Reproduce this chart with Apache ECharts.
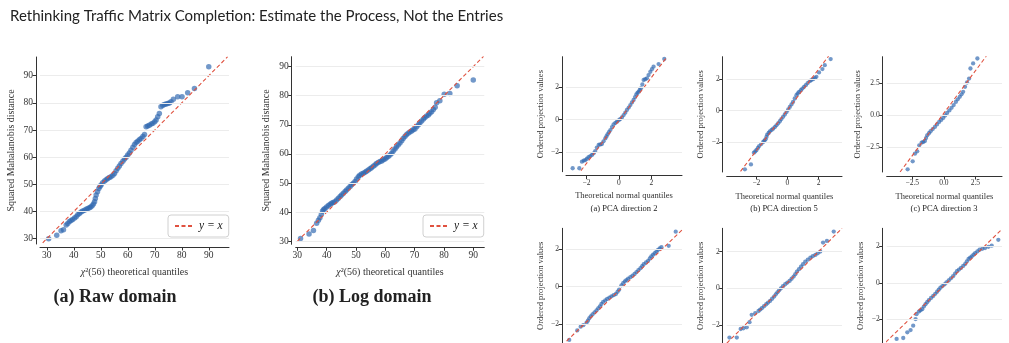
<!DOCTYPE html>
<html>
<head>
<meta charset="utf-8">
<script src="https://cdn.jsdelivr.net/npm/echarts@6/dist/echarts.min.js"></script>
<style>
html,body{margin:0;padding:0;background:#fff;}
#main{width:1009px;height:343px;}
</style>
</head>
<body>
<div id="main"></div>
<script>
// (a) raw domain: chi2(56) quantiles vs squared Mahalanobis distance
var rawQ = [30.7,33.7,35.3,36.2,37.2,37.8,38.4,39.0,39.6,40.3,40.9,41.5,42.1,42.7,43.3,44.0,44.6,45.2,45.8,46.3,46.8,47.3,47.7,48.0,48.3,48.8,49.3,49.7,50.1,50.7,51.4,52.0,52.6,53.2,53.8,54.5,55.1,55.7,56.3,56.9,57.5,58.2,58.8,59.4,60.0,60.6,61.2,61.9,62.5,63.1,63.7,64.3,64.9,65.6,66.2,66.8,67.4,68.0,68.7,69.3,70.0,70.5,71.1,71.7,72.3,73.0,73.6,74.2,74.8,75.4,76.0,76.9,78.5,80.1,82.2,84.7,90.0];
var rawD = [30.0,31.3,32.9,33.3,35.0,35.6,36.3,36.7,37.1,37.6,38.1,38.8,39.3,39.8,40.2,40.5,40.8,41.1,41.4,41.7,42.1,42.8,43.6,44.8,46.1,47.3,48.5,49.2,49.8,50.6,51.2,51.7,52.2,52.5,52.8,53.4,54.0,55.0,55.9,56.8,57.7,58.5,59.3,60.0,60.8,61.6,62.6,63.7,64.7,65.4,65.9,66.4,66.9,67.6,68.4,71.2,71.5,71.8,72.2,72.5,73.1,73.7,74.9,76.1,78.6,79.1,79.4,79.6,79.8,80.0,80.4,81.3,82.3,82.3,83.7,85.3,93.3];
var rawLine = [[28.5, 28.5], [97, 97]];

// (b) log domain
var logQ = [31.1,34.0,35.5,36.6,37.2,37.7,38.2,38.6,39.0,39.4,40.0,40.6,41.2,41.7,42.2,42.8,43.4,44.0,44.6,45.1,45.7,46.3,46.8,47.4,48.0,48.5,49.1,49.7,50.2,50.8,51.3,51.9,52.5,53.1,53.6,54.2,54.8,55.3,55.9,56.5,57.0,57.6,58.2,58.8,59.3,59.9,60.4,61.0,61.6,62.2,62.7,63.3,63.8,64.4,65.0,65.6,66.1,66.7,67.2,67.8,68.4,69.0,69.5,70.1,70.7,71.3,71.8,72.4,73.0,73.5,74.1,74.7,75.2,75.8,76.4,77.0,77.5,78.6,80.1,82.0,84.5,90.0];
var logD = [31.0,32.5,33.7,36.2,37.2,38.1,39.3,40.4,40.9,41.3,41.8,42.3,42.7,43.1,43.3,43.6,44.2,44.8,45.4,45.9,46.5,47.1,47.6,48.2,48.8,49.4,49.9,50.5,51.4,52.2,52.7,53.1,53.4,53.7,54.1,54.5,54.9,55.3,55.8,56.2,56.7,57.1,57.4,57.6,58.0,58.3,58.7,59.1,59.6,60.2,61.0,61.7,62.4,63.1,63.8,64.5,65.3,66.0,66.6,67.1,67.5,67.9,68.3,68.6,69.3,70.0,70.7,71.3,72.0,72.5,73.0,73.4,74.0,74.5,75.3,76.0,77.6,78.3,80.5,80.8,83.4,85.4];
var logLine = [[30, 30], [93.5, 93.5]];

var bigTicks = [30, 40, 50, 60, 70, 80, 90];

// PCA direction 2
var dir2Q = [-2.85,-2.44,-2.28,-2.17,-2.07,-1.97,-1.87,-1.76,-1.66,-1.56,-1.46,-1.36,-1.25,-1.15,-1.05,-0.95,-0.84,-0.77,-0.70,-0.62,-0.53,-0.43,-0.33,-0.22,-0.12,-0.02,0.08,0.18,0.29,0.39,0.49,0.60,0.70,0.80,0.90,0.99,1.07,1.14,1.21,1.28,1.35,1.44,1.52,1.62,1.72,1.82,1.93,2.03,2.13,2.44,2.79];
var dir2V = [-2.96,-2.96,-2.56,-2.50,-2.46,-2.38,-2.29,-2.22,-2.15,-2.05,-1.91,-1.70,-1.54,-1.51,-1.48,-1.32,-1.14,-1.02,-0.89,-0.76,-0.63,-0.45,-0.28,-0.19,-0.12,-0.04,0.04,0.14,0.28,0.43,0.59,0.74,0.89,1.05,1.20,1.38,1.54,1.63,1.71,1.81,1.91,2.15,2.42,2.47,2.52,2.72,2.92,3.08,3.23,3.39,3.70];
var dir2Line = [[-2.34, -3.11], [2.89, 3.74]];

// PCA direction 5
var dir5Q = [-2.74,-2.35,-2.16,-2.07,-1.99,-1.90,-1.82,-1.69,-1.56,-1.48,-1.41,-1.35,-1.30,-1.21,-1.13,-1.02,-0.92,-0.81,-0.71,-0.60,-0.49,-0.39,-0.28,-0.17,-0.06,0.05,0.15,0.26,0.36,0.47,0.58,0.66,0.75,0.86,0.96,1.07,1.18,1.30,1.43,1.54,1.65,1.76,1.86,2.03,2.25,2.40,2.78];
var dir5V = [-3.74,-3.43,-2.68,-2.60,-2.51,-2.38,-2.26,-2.13,-2.00,-1.92,-1.83,-1.68,-1.53,-1.42,-1.32,-1.23,-1.15,-1.05,-0.94,-0.81,-0.68,-0.54,-0.40,-0.25,-0.09,0.07,0.23,0.39,0.55,0.77,0.98,1.09,1.19,1.30,1.40,1.51,1.62,1.75,1.87,1.94,2.00,2.07,2.15,2.43,2.64,2.89,3.28];
var dir5Line = [[-3.02, -3.87], [2.65, 3.47]];

// PCA direction 3
var dir3Q = [-2.87,-2.47,-2.29,-2.11,-1.95,-1.76,-1.63,-1.50,-1.41,-1.32,-1.18,-1.05,-0.88,-0.71,-0.54,-0.37,-0.21,-0.05,0.10,0.26,0.44,0.61,0.78,0.95,1.10,1.26,1.40,1.53,1.68,1.84,2.00,2.11,2.32,2.66];
var dir3V = [-4.26,-3.63,-3.03,-2.84,-2.37,-2.16,-2.10,-2.03,-1.80,-1.58,-1.42,-1.26,-1.09,-0.92,-0.72,-0.53,-0.37,-0.21,-0.02,0.18,0.38,0.58,0.80,1.05,1.25,1.45,1.65,1.84,2.24,2.58,2.89,3.68,4.08,4.47];
var dir3Line = [[-3.47, -4.47], [3.37, 4.66]];

// second row (cut off at the bottom)
var dirDQ = [-2.83,-2.41,-2.23,-2.09,-1.92,-1.85,-1.78,-1.70,-1.61,-1.50,-1.40,-1.31,-1.22,-1.14,-1.05,-0.94,-0.84,-0.72,-0.61,-0.50,-0.38,-0.29,-0.21,-0.09,0.00,0.09,0.17,0.26,0.38,0.49,0.60,0.70,0.80,0.91,1.00,1.08,1.20,1.31,1.40,1.48,1.57,1.66,1.75,1.83,1.92,2.01,2.39,2.76];
var dirDV = [-2.82,-2.32,-2.12,-2.04,-1.91,-1.80,-1.68,-1.57,-1.47,-1.36,-1.26,-1.15,-1.04,-0.92,-0.81,-0.73,-0.65,-0.58,-0.51,-0.45,-0.39,-0.27,-0.16,0.07,0.18,0.28,0.35,0.42,0.50,0.58,0.67,0.77,0.87,0.98,1.09,1.19,1.28,1.37,1.49,1.60,1.69,1.77,1.86,1.95,2.02,2.09,2.16,2.91];
var dirDLine = [[-2.97, -2.88], [3.09, 3.0]];

var dirEQ = [-2.85,-2.45,-2.24,-2.09,-1.91,-1.76,-1.64,-1.45,-1.27,-1.18,-1.09,-0.97,-0.85,-0.75,-0.64,-0.53,-0.42,-0.33,-0.24,-0.15,-0.05,0.06,0.18,0.30,0.42,0.53,0.64,0.73,0.82,0.93,1.04,1.15,1.27,1.41,1.55,1.68,1.82,1.95,2.09,2.24,2.45,2.82];
var dirEV = [-2.69,-2.69,-2.22,-2.18,-2.13,-1.85,-1.45,-1.36,-1.24,-1.16,-1.09,-0.98,-0.87,-0.78,-0.69,-0.57,-0.45,-0.33,-0.22,-0.11,0.00,0.11,0.22,0.31,0.40,0.52,0.64,0.77,0.91,1.04,1.18,1.31,1.45,1.56,1.67,1.75,1.82,1.91,2.00,2.49,2.58,3.09];
var dirELine = [[-3.0, -3.0], [3.27, 3.27]];

var dirFQ = [-2.76,-2.40,-2.18,-2.00,-1.86,-1.73,-1.68,-1.55,-1.46,-1.37,-1.28,-1.19,-1.10,-1.01,-0.89,-0.77,-0.66,-0.56,-0.47,-0.38,-0.27,-0.16,-0.05,0.07,0.19,0.31,0.42,0.52,0.63,0.74,0.86,0.97,1.06,1.15,1.24,1.33,1.42,1.51,1.63,1.75,1.90,2.05,2.23,2.41,2.77];
var dirFV = [-3.06,-3.01,-2.70,-2.58,-2.34,-1.98,-1.71,-1.57,-1.50,-1.44,-1.30,-1.17,-1.06,-0.95,-0.83,-0.72,-0.60,-0.49,-0.38,-0.27,-0.18,-0.09,0.02,0.13,0.24,0.36,0.50,0.63,0.72,0.81,0.92,1.03,1.17,1.30,1.37,1.44,1.53,1.62,1.71,1.80,1.85,1.89,1.96,2.02,2.34];
var dirFLine = [[-3.35, -3.24], [2.99, 2.94]];

var ticks2 = [-2, 0, 2];
var ticks25 = [-2.5, 0, 2.5];

function zip(a, b) {
    var out = [];
    for (var i = 0; i < a.length; i++) out.push([a[i], b[i]]);
    return out;
}

function fmt(dec) {
    return function (v) {
        var s = Math.abs(v).toFixed(dec);
        return v < 0 ? '\u2212' + s : s;
    };
}

var serif = '"Liberation Serif", "DejaVu Serif", serif';
var dotColor = 'rgba(48,104,176,0.85)';
var redColor = '#e0513f';

var panels = [
    {box: [40, 57, 189, 187], x: [27.5, 97.5], y: [28.05, 96.9], pts: zip(rawQ, rawD), line: rawLine,
     xt: bigTicks, yt: bigTicks, dec: 0, big: true,
     xname: '{i|\u03c7}\u00b2(56) theoretical quantiles', yname: 'Squared Mahalanobis distance'},
    {box: [295.7, 56.7, 188.6, 187.6], x: [29.45, 93.76], y: [28.97, 93.4], pts: zip(logQ, logD), line: logLine,
     xt: bigTicks, yt: bigTicks, dec: 0, big: true,
     xname: '{i|\u03c7}\u00b2(56) theoretical quantiles', yname: 'Squared Mahalanobis distance'},
    {box: [566, 56.7, 116, 115], x: [-3.26, 3.88], y: [-3.17, 3.84], pts: zip(dir2Q, dir2V), line: dir2Line,
     xt: ticks2, yt: ticks2, dec: 0, xname: 'Theoretical normal quantiles', yname: 'Ordered projection values'},
    {box: [726.7, 56.7, 115.3, 115.3], x: [-3.91, 3.51], y: [-3.91, 3.43], pts: zip(dir5Q, dir5V), line: dir5Line,
     xt: ticks2, yt: ticks2, dec: 0, xname: 'Theoretical normal quantiles', yname: 'Ordered projection values'},
    {box: [886.7, 56.7, 115.3, 115.3], x: [-4.53, 4.61], y: [-4.47, 4.61], pts: zip(dir3Q, dir3V), line: dir3Line,
     xt: ticks25, yt: ticks25, dec: 1, xname: 'Theoretical normal quantiles', yname: 'Ordered projection values'},
    {box: [566, 228.3, 116, 115], x: [-3.0, 3.09], y: [-3.0, 3.09], pts: zip(dirDQ, dirDV), line: dirDLine,
     xt: ticks2, yt: ticks2, dec: 0, xname: '', yname: 'Ordered projection values'},
    {box: [726.7, 228.3, 115.3, 115], x: [-3.0, 3.27], y: [-3.0, 3.27], pts: zip(dirEQ, dirEV), line: dirELine,
     xt: ticks2, yt: ticks2, dec: 0, xname: '', yname: 'Ordered projection values'},
    {box: [886.7, 228.3, 115.3, 115], x: [-3.3, 2.97], y: [-3.3, 2.97], pts: zip(dirFQ, dirFV), line: dirFLine,
     xt: ticks2, yt: ticks2, dec: 0, xname: '', yname: 'Ordered projection values'}
];

var grids = [], xAxes = [], yAxes = [], series = [];
panels.forEach(function (p, i) {
    var tickFont = p.big ? 9.5 : 7.5;
    var nameFont = p.big ? 10 : 8.5;
    grids.push({left: p.box[0], top: p.box[1], width: p.box[2], height: p.box[3],
        outerBoundsMode: 'none', containLabel: false});
    xAxes.push({
        type: 'value', gridIndex: i, min: p.x[0], max: p.x[1], offset: p.big ? 3 : 4,
        axisLine: {onZero: false, lineStyle: {color: '#333', width: 1}},
        axisTick: {customValues: p.xt, length: 3.5, lineStyle: {color: '#333'}},
        axisLabel: {customValues: p.xt, formatter: fmt(p.dec), fontFamily: serif, fontSize: tickFont, color: '#333', margin: 3},
        splitLine: {show: false},
        name: p.xname, nameLocation: 'middle', nameGap: p.big ? 20 : 16,
        nameTextStyle: {fontFamily: serif, fontSize: nameFont, color: '#333',
            rich: {i: {fontStyle: 'italic', fontFamily: serif, fontSize: nameFont, color: '#333'}}}
    });
    yAxes.push({
        type: 'value', gridIndex: i, min: p.y[0], max: p.y[1], offset: 4,
        axisLine: {onZero: false, lineStyle: {color: '#333', width: 1}},
        axisTick: {customValues: p.yt, length: 3.5, lineStyle: {color: '#333'}},
        axisLabel: {customValues: p.yt, formatter: fmt(p.dec), fontFamily: serif, fontSize: tickFont, color: '#333', margin: 3},
        splitLine: {show: false},
        name: p.yname, nameLocation: 'middle', nameRotate: 90, nameGap: p.big ? 20 : 17,
        nameTextStyle: {fontFamily: serif, fontSize: nameFont, color: '#333'}
    });
    // horizontal grid lines at the y ticks
    series.push({
        type: 'line', xAxisIndex: i, yAxisIndex: i, data: [], z: 1, silent: true,
        markLine: {
            silent: true, symbol: 'none', label: {show: false},
            lineStyle: {color: '#ececec', width: 1, type: 'solid'},
            data: p.yt.map(function (v) { return {yAxis: v}; })
        }
    });
    series.push({
        type: 'scatter', xAxisIndex: i, yAxisIndex: i, data: p.pts, z: 3,
        symbolSize: p.big ? 5.5 : 4.3, itemStyle: {color: dotColor}, silent: true
    });
    series.push({
        name: 'y = x', type: 'line', xAxisIndex: i, yAxisIndex: i, data: p.line, z: 4,
        showSymbol: false, symbol: 'none', clip: true, silent: true,
        itemStyle: {color: redColor},
        lineStyle: {color: redColor, width: 1.1, type: [4, 2.5]}
    });
});

function legendAt(left) {
    return {
        left: left, top: 215,
        data: [{name: 'y = x', itemStyle: {opacity: 0}}], selectedMode: false,
        backgroundColor: '#fff', borderColor: '#d0d0d0', borderWidth: 1, borderRadius: 3,
        padding: [5, 6, 5, 6], itemWidth: 19, itemHeight: 10, itemGap: 4,
        textStyle: {fontFamily: serif, fontStyle: 'italic', fontSize: 11.5, color: '#222'}
    };
}

function txt(x, y, s, font) {
    return {type: 'text', x: x, y: y, style: {text: s, font: font, fill: '#222', textAlign: 'center', textVerticalAlign: 'middle'}};
}

var chart = echarts.init(document.getElementById('main'));
chart.setOption({
    backgroundColor: '#fff',
    animation: false,
    title: {
        text: 'Rethinking Traffic Matrix Completion: Estimate the Process, Not the Entries',
        left: 5, top: 4,
        textStyle: {fontFamily: 'Lato', fontSize: 15, fontWeight: 'normal', color: '#222'}
    },
    legend: [legendAt(168), legendAt(423)],
    grid: grids,
    xAxis: xAxes,
    yAxis: yAxes,
    series: series,
    graphic: [
        txt(115, 297, '(a) Raw domain', 'bold 18px ' + serif),
        txt(372, 297, '(b) Log domain', 'bold 18px ' + serif),
        txt(624, 209, '(a) PCA direction 2', '8.5px ' + serif),
        txt(784, 209, '(b) PCA direction 5', '8.5px ' + serif),
        txt(944, 209, '(c) PCA direction 3', '8.5px ' + serif)
    ]
});
</script>
</body>
</html>
